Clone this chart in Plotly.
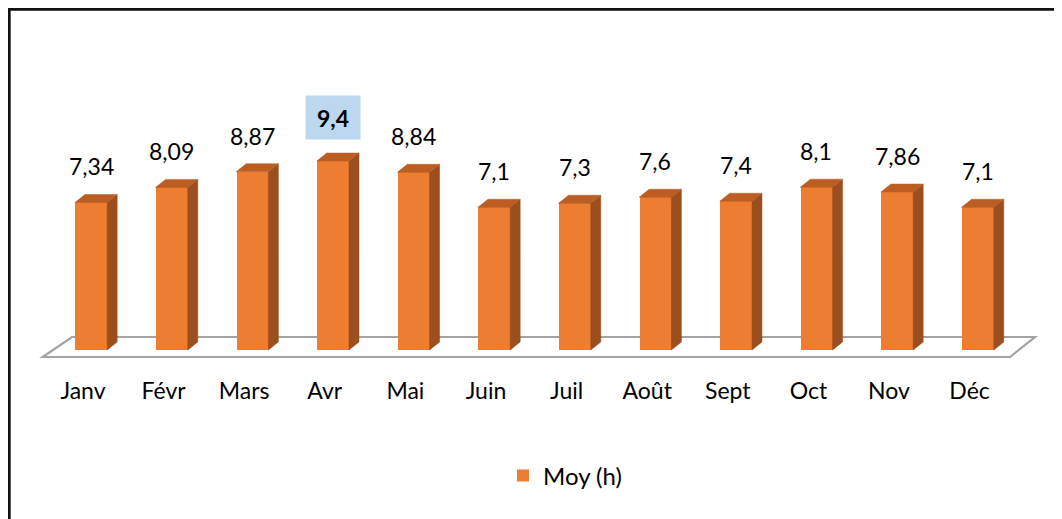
import plotly.graph_objects as go

# ---------------- data ----------------
months = ["Janv", "Févr", "Mars", "Avr", "Mai", "Juin", "Juil", "Août", "Sept", "Oct", "Nov", "Déc"]
moy_h = [7.34, 8.09, 8.87, 9.4, 8.84, 7.1, 7.3, 7.6, 7.4, 8.1, 7.86, 7.1]
series_name = "Moy (h)"
highlight_month = "Avr"

# ---------------- geometry / style ----------------
PAGE_OFF = 8                         # browser body margin
W, H = 1062 - PAGE_OFF, 519 - PAGE_OFF


def px(v):
    """reference page pixel -> figure pixel"""
    return v - PAGE_OFF


X0_PX, STEP_PX = px(83.0), 80.6      # first category position, spacing
ZERO_PX, PPU = px(350.0), 20.1       # value 0 position, pixels per unit
Y_DOM_TOP_PX, Y_DOM_BOT_PX = px(20.0), px(372.0)

FRONT = "#ED7D31"
SIDE = "#9B4E1E"
TOP = "#BC5D24"
FONT = "Lato"
LBL_SIZE = 23
LEG_SIZE = 24

BAR_OFF, BAR_W = -0.1, 0.4
DX = 10.0 / STEP_PX
DY = 8.0 / PPU

n = len(months)
idx = list(range(n))

X_LO, X_HI = -0.7, n - 0.05
x_dom = [max(0.0, (X0_PX + X_LO * STEP_PX) / W), min(1.0, (X0_PX + X_HI * STEP_PX) / W)]
y_dom = [1 - Y_DOM_BOT_PX / H, 1 - Y_DOM_TOP_PX / H]
y_rng = [(ZERO_PX - Y_DOM_BOT_PX) / PPU, (ZERO_PX - Y_DOM_TOP_PX) / PPU]

fig = go.Figure()

# side & top faces (pseudo-3D) computed from the data
sx, sy, tx, ty = [], [], [], []
for i, v in zip(idx, moy_h):
    xl = i + BAR_OFF
    xr = xl + BAR_W
    sx += [xr, xr + DX, xr + DX, xr, xr, None]
    sy += [0, DY, v + DY, v, 0, None]
    tx += [xl, xl + DX, xr + DX, xr, xl, None]
    ty += [v, v + DY, v + DY, v, v, None]

fig.add_trace(go.Scatter(x=sx, y=sy, mode="lines", fill="toself", fillcolor=SIDE,
                         line=dict(color=SIDE, width=0.5), showlegend=False, hoverinfo="skip"))
fig.add_trace(go.Scatter(x=tx, y=ty, mode="lines", fill="toself", fillcolor=TOP,
                         line=dict(color=TOP, width=0.5), showlegend=False, hoverinfo="skip"))

# front faces
fig.add_trace(go.Bar(x=idx, y=moy_h, name=series_name, marker=dict(color=FRONT, line=dict(width=0)),
                     width=BAR_W, offset=BAR_OFF, hoverinfo="skip"))

# data labels
for i, (m, v) in enumerate(zip(months, moy_h)):
    txt = f"{v:g}".replace(".", ",")
    if m == highlight_month:
        fig.add_annotation(x=i + BAR_OFF + BAR_W / 2, y=v, text=f"<b>{txt}</b>", showarrow=False,
                           yshift=44, yanchor="middle", xanchor="center",
                           bgcolor="#BDD7EE", width=54, height=43, borderpad=0,
                           font=dict(family=FONT, size=LBL_SIZE, color="black"))
    else:
        fig.add_annotation(x=i + BAR_OFF + BAR_W / 2, y=v, text=txt, showarrow=False,
                           yshift=36, yanchor="middle", xanchor="center",
                           font=dict(family=FONT, size=LBL_SIZE, color="black"))

# floor (parallelogram)
fy_front = (ZERO_PX - px(357)) / PPU
fy_back = (ZERO_PX - px(337)) / PPU
fx_bl = (px(72) - X0_PX) / STEP_PX
fx_br = (px(1035) - X0_PX) / STEP_PX
fig.add_shape(type="path", xref="x", yref="y", layer="below",
              path=f"M {-0.5},{fy_front} L {fx_bl},{fy_back} L {fx_br},{fy_back} L {n - 0.5},{fy_front} Z",
              line=dict(color="#A3A3A3", width=2.2), fillcolor="white")

# outer border (open on the right/bottom, as cropped)
fig.add_shape(type="rect", xref="paper", yref="paper", x0=px(9.3) / W, y0=-0.05, x1=1.05, y1=1 - px(9.3) / H,
              line=dict(color="#111111", width=2.7), fillcolor="rgba(0,0,0,0)", layer="above")

fig.update_layout(
    width=W, height=H, autosize=False,
    margin=dict(l=0, r=0, t=0, b=0),
    paper_bgcolor="white", plot_bgcolor="white",
    font=dict(family=FONT, size=LBL_SIZE, color="black"),
    bargap=0,
    xaxis=dict(domain=x_dom, range=[X_LO, X_HI], tickmode="array", tickvals=idx, ticktext=months,
               showgrid=False, zeroline=False, showline=False, ticks="", ticklabelstandoff=3,
               tickfont=dict(family=FONT, size=LBL_SIZE, color="black"), fixedrange=True),
    yaxis=dict(domain=y_dom, range=y_rng, visible=False, showgrid=False, zeroline=False, fixedrange=True),
    showlegend=True,
    legend=dict(orientation="h", x=(px(543) - 40) / W, xanchor="left", y=1 - px(476) / H, yanchor="middle",
                font=dict(family=FONT, size=LEG_SIZE, color="black"), bgcolor="rgba(0,0,0,0)"),
)

fig.write_html("out.html")
